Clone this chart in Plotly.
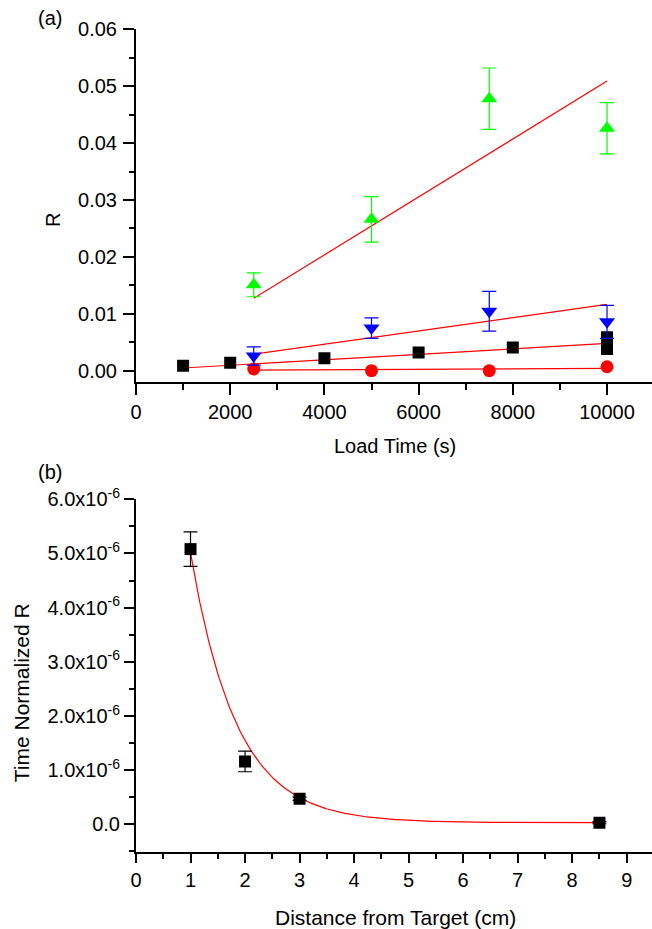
import numpy as np
import plotly.graph_objects as go

W, H = 652, 929
FONT = "Liberation Sans, Arial, sans-serif"

# ---- Panel (a): R versus load time ----
load_time_sq = [1000, 2000, 4000, 6000, 8000, 10000, 10000]
r_square = [0.00088, 0.0014, 0.0022, 0.0032, 0.0041, 0.0059, 0.0038]

load_time = [2500, 5000, 7500, 10000]
r_circle = [0.0003, 0.0000, 0.0000, 0.0007]
r_down = [0.0026, 0.0075, 0.01045, 0.0086]
r_down_err = [0.0016, 0.0018, 0.0035, 0.0029]
r_up = [0.0151, 0.0266, 0.0478, 0.0426]
r_up_err = [0.0021, 0.0040, 0.0054, 0.0045]

a_x_ticks = [0, 2000, 4000, 6000, 8000, 10000]
a_y_ticks = [0, 0.01, 0.02, 0.03, 0.04, 0.05, 0.06]

# proportional (through-origin) fits: slope and x extent
fit_slope_square, fit_span_square = 4.8e-7, [1000, 10000]
fit_slope_circle, fit_span_circle = 4.0e-8, [2500, 10000]
fit_slope_down, fit_span_down = 1.165e-6, [2500, 10000]
fit_slope_up, fit_span_up = 5.09e-6, [2500, 10000]

# ---- Panel (b): time-normalized R versus distance ----
distance = [1, 2, 3, 8.5]
r_norm = [5.08e-6, 1.16e-6, 0.47e-6, 0.03e-6]
r_norm_err = [0.32e-6, 0.19e-6, 0.03e-6, 0.02e-6]

# exponential decay fit y = y0 + A*exp(-x/L)
decay_y0, decay_amp, decay_len = 0.03e-6, 16.4e-6, 0.84
decay_span = [1, 8.5]

b_x_ticks = list(range(0, 10))
b_y_ticks = [0, 1e-6, 2e-6, 3e-6, 4e-6, 5e-6, 6e-6]
b_y_text = ["0.0"] + [f"{v}.0x10<sup>-6</sup>" for v in range(1, 7)]

RED = "#ff0000"
GREEN = "#00ff00"
BLUE = "#0000ff"

fig = go.Figure()


def add_fit(slope, span, xa, ya):
    xs = np.array(span, dtype=float)
    fig.add_trace(go.Scatter(x=xs, y=slope * xs, mode="lines",
                             line=dict(color=RED, width=1.2),
                             xaxis=xa, yaxis=ya, hoverinfo="skip"))


for s, sp in [(fit_slope_up, fit_span_up), (fit_slope_down, fit_span_down),
              (fit_slope_square, fit_span_square), (fit_slope_circle, fit_span_circle)]:
    add_fit(s, sp, "x", "y")

fig.add_trace(go.Scatter(x=load_time_sq, y=r_square, mode="markers",
                         marker=dict(symbol="square", size=12, color="black"),
                         xaxis="x", yaxis="y"))
fig.add_trace(go.Scatter(x=load_time, y=r_circle, mode="markers",
                         marker=dict(symbol="circle", size=13, color=RED),
                         xaxis="x", yaxis="y"))
fig.add_trace(go.Scatter(x=load_time, y=r_up, mode="markers",
                         marker=dict(symbol="triangle-up", size=14, color=GREEN),
                         error_y=dict(type="data", array=r_up_err, color=GREEN,
                                      thickness=1.2, width=7),
                         xaxis="x", yaxis="y"))
fig.add_trace(go.Scatter(x=load_time, y=r_down, mode="markers",
                         marker=dict(symbol="triangle-down", size=14, color=BLUE),
                         error_y=dict(type="data", array=r_down_err, color=BLUE,
                                      thickness=1.2, width=7),
                         xaxis="x", yaxis="y"))

# panel (b)
xd = np.linspace(decay_span[0], decay_span[1], 300)
fig.add_trace(go.Scatter(x=xd, y=decay_y0 + decay_amp * np.exp(-xd / decay_len),
                         mode="lines", line=dict(color=RED, width=1.2),
                         xaxis="x2", yaxis="y2", hoverinfo="skip"))
fig.add_trace(go.Scatter(x=distance, y=r_norm, mode="markers",
                         marker=dict(symbol="square", size=12, color="black"),
                         error_y=dict(type="data", array=r_norm_err, color="black",
                                      thickness=1.2, width=7),
                         xaxis="x2", yaxis="y2"))


def px_x(p):
    return p / W


def px_y(p):
    return 1 - p / H


axis_common = dict(showline=True, linecolor="black", linewidth=2, showgrid=False,
                   zeroline=False, ticks="outside", tickcolor="black", tickwidth=2,
                   automargin=False,
                   tickfont=dict(family=FONT, size=20, color="black"))

fig.update_layout(
    template="none",
    width=W, height=H, showlegend=False,
    margin=dict(l=0, r=0, t=0, b=0, pad=0, autoexpand=False),
    paper_bgcolor="white", plot_bgcolor="white",
    font=dict(family=FONT, color="black", size=20),
    xaxis=dict(domain=[px_x(136), 1], anchor="y", range=[0, 10955],
               tickvals=a_x_ticks, ticktext=[str(v) for v in a_x_ticks], ticklen=11,
               minor=dict(dtick=1000, tick0=0, ticklen=6, tickwidth=2,
                          tickcolor="black", ticks="outside"),
               **axis_common),
    yaxis=dict(domain=[px_y(381.7), px_y(29.3)], anchor="x", range=[-0.00193, 0.06],
               tickvals=a_y_ticks, ticktext=[f"{v:.2f}" for v in a_y_ticks],
               ticklen=11, ticklabelstandoff=2,
               minor=dict(dtick=0.005, tick0=0, ticklen=5, tickwidth=2,
                          tickcolor="black", ticks="outside"),
               **axis_common),
    xaxis2=dict(domain=[px_x(136), 1], anchor="y2", range=[0, 9.464],
                tickvals=b_x_ticks, ticktext=[str(v) for v in b_x_ticks], ticklen=9,
                minor=dict(dtick=0.5, tick0=0, ticklen=5, tickwidth=2,
                           tickcolor="black", ticks="outside"),
                **axis_common),
    yaxis2=dict(domain=[px_y(852.3), px_y(499.3)], anchor="x2", range=[-0.517e-6, 6e-6],
                tickvals=b_y_ticks, ticktext=b_y_text, ticklen=10,
                minor=dict(dtick=0.5e-6, tick0=0, ticklen=5, tickwidth=2,
                           tickcolor="black", ticks="outside"),
                **axis_common),
)


def label(text, x, y, size, angle=0):
    fig.add_annotation(text=text, x=px_x(x), y=px_y(y), xref="paper", yref="paper",
                       xanchor="center", yanchor="middle", showarrow=False,
                       textangle=angle, font=dict(family=FONT, size=size, color="black"))


label("(a)", 50, 18, 20)
label("(b)", 50, 471.5, 20)
label("Load Time (s)", 395, 446, 20)
label("R", 53, 220, 20, -90)
label("Distance from Target (cm)", 395, 917, 21)
label("Time Normalized R", 21.7, 692.5, 21, -90)

fig.write_html("out.html")
